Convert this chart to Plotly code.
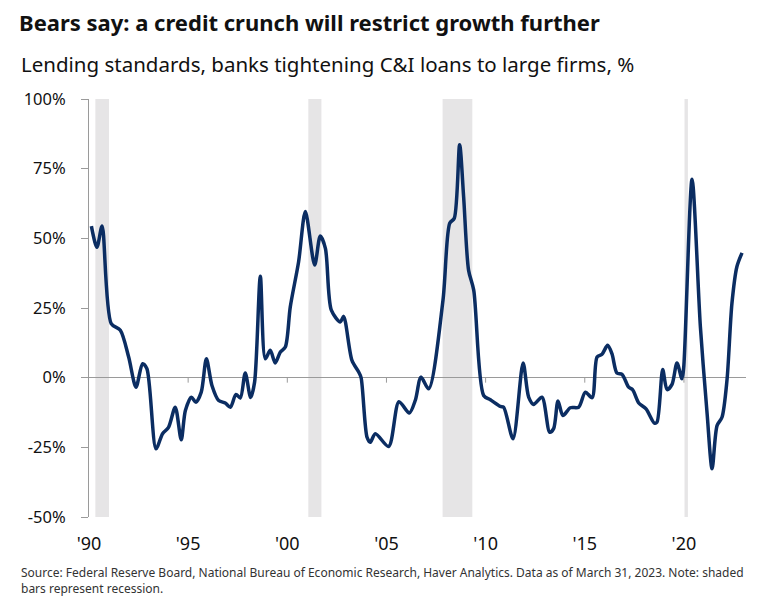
import plotly.graph_objects as go

# Lending standards: net % of banks tightening C&I loans to large firms
years = [
    1990.12, 1990.40, 1990.66, 1991.12, 1991.58, 1992.00, 1992.37, 1992.70, 1992.92,
    1993.38, 1993.71, 1994.01, 1994.35, 1994.65, 1994.86, 1995.16, 1995.39, 1995.66,
    1995.92, 1996.20, 1996.54, 1996.87, 1997.13, 1997.41, 1997.63, 1997.88, 1998.15,
    1998.35, 1998.64, 1998.89, 1999.14, 1999.39, 1999.65, 1999.90, 2000.15, 2000.57,
    2000.91, 2001.38, 2001.66, 2001.92, 2002.22, 2002.67, 2002.84, 2003.26, 2003.60,
    2003.72, 2004.02, 2004.18, 2004.44, 2005.11, 2005.63, 2006.15, 2006.46, 2006.74,
    2007.13, 2007.85, 2008.19, 2008.42, 2008.69, 2008.89, 2009.14, 2009.40, 2009.90,
    2010.24, 2010.74, 2010.91, 2011.38, 2011.89, 2012.17, 2012.42, 2012.84, 2013.23,
    2013.43, 2013.65, 2013.90, 2014.27, 2014.69, 2015.03, 2015.37, 2015.62, 2015.87,
    2016.15, 2016.37, 2016.62, 2016.88, 2017.21, 2017.41, 2017.72, 2018.09, 2018.51,
    2018.64, 2018.93, 2019.15, 2019.40, 2019.65, 2019.90, 2019.99, 2020.41, 2020.83,
    2021.17, 2021.42, 2021.67, 2021.92, 2022.17, 2022.42, 2022.67, 2022.93,
]
values = [
    54.4, 46.8, 54.4, 19.4, 17.0, 7.4, -3.4, 5.0, 3.2,
    -25.5, -20.1, -17.8, -10.6, -22.3, -11.8, -7.0, -8.8, -5.2,
    6.8, -2.8, -8.2, -9.1, -10.6, -6.0, -7.3, 1.7, -7.1,
    -1.6, 36.4, 6.8, 9.8, 5.3, 9.2, 11.0, 25.4, 41.6,
    59.6, 40.4, 50.8, 46.4, 24.2, 20.0, 22.0, 6.2, 2.0,
    0.0, -21.4, -23.2, -20.1, -24.7, -8.6, -12.7, -8.0, 0.2,
    -4.0, 27.8, 55.4, 57.2, 83.6, 65.0, 38.6, 31.4, -6.4,
    -7.9, -10.3, -10.6, -21.9, 5.3, -7.0, -9.6, -7.0, -19.6,
    -18.3, -8.4, -13.6, -10.8, -10.6, -5.2, -7.2, 7.4, 8.4,
    11.6, 8.6, 1.7, 1.2, -3.4, -4.3, -9.1, -11.2, -16.3,
    -16.0, 2.9, -4.3, -2.4, 5.3, -0.4, 3.8, 71.2, 18.2,
    -13.0, -32.7, -17.2, -14.2, -1.0, 26.6, 39.8, 44.8,
]

# NBER recessions (shaded bars), start / end as decimal years
rec_start = [1990.32, 2001.06, 2007.83, 2020.03]
rec_end = [1991.01, 2001.72, 2009.33, 2020.20]

x_ticks = [1990, 1995, 2000, 2005, 2010, 2015, 2020]
x_labels = ["'90", "'95", "'00", "'05", "'10", "'15", "'20"]
y_ticks = [-50, -25, 0, 25, 50, 75, 100]
y_labels = ["-50%", "-25%", "0%", "25%", "50%", "75%", "100%"]

font = "Noto Sans"
navy = "#0b2d62"
grey = "#9a9a9a"

fig = go.Figure()

fig.add_trace(go.Scatter(
    x=years,
    y=values,
    mode="lines",
    line=dict(color=navy, width=3.5, shape="spline", smoothing=0.8),
    hoverinfo="skip",
    showlegend=False,
))

shapes = []
for s, e in zip(rec_start, rec_end):
    shapes.append(dict(type="rect", xref="x", yref="y", x0=s, x1=e, y0=-50, y1=100,
                       fillcolor="#e6e5e6", line=dict(width=0), layer="below"))

# little tick marks hanging from the zero line
for t in x_ticks[1:]:
    shapes.append(dict(type="line", xref="x", yref="y", ysizemode="pixel", yanchor=0,
                       x0=t, x1=t, y0=0, y1=-5, line=dict(color=grey, width=1)))

fig.update_layout(
    width=770,
    height=605,
    paper_bgcolor="white",
    plot_bgcolor="white",
    margin=dict(l=89, r=24, t=99, b=88),
    font=dict(family=font, color="#111111"),
    shapes=shapes,
    title=dict(
        text="<b>Bears say: a credit crunch will restrict growth further</b>",
        font=dict(family=font, size=22, color="#111111"),
        xref="container", yref="container",
        x=19 / 770, xanchor="left",
        y=1 - 23 / 605, yanchor="middle",
    ),
    annotations=[
        dict(text="Lending standards, banks tightening C&I loans to large firms, %",
             xref="paper", yref="paper", x=(19 - 89) / 657, y=(518 - 64) / 419,
             xanchor="left", yanchor="middle", showarrow=False,
             font=dict(family=font, size=20.5, color="#111111")),
        dict(text="Source: Federal Reserve Board, National Bureau of Economic Research, "
                  "Haver Analytics. Data as of March 31, 2023. Note: shaded<br>"
                  "bars represent recession.",
             xref="paper", yref="paper", x=(19 - 89) / 657, y=(518 - 563) / 419,
             xanchor="left", yanchor="top", align="left", showarrow=False,
             font=dict(family=font, size=12, color="#333333")),
    ],
    xaxis=dict(
        range=[1990, 2023.13],
        tickvals=x_ticks,
        ticktext=x_labels,
        ticks="",
        showgrid=False,
        zeroline=False,
        showline=False,
        ticklabelstandoff=14,
        tickfont=dict(family=font, size=18, color="#111111"),
    ),
    yaxis=dict(
        range=[-50, 100],
        tickvals=y_ticks,
        ticktext=y_labels,
        ticks="outside",
        ticklen=7,
        tickcolor=grey,
        showline=True,
        linecolor=grey,
        linewidth=1,
        showgrid=False,
        zeroline=True,
        zerolinecolor=grey,
        zerolinewidth=1,
        ticklabelstandoff=12,
        tickfont=dict(family=font, size=16.5, color="#111111"),
    ),
)

# drop the page's default body margin so the figure sits at the window origin
fig.write_html("out.html", config={"displayModeBar": False},
               post_script="document.body.style.margin='0';")
